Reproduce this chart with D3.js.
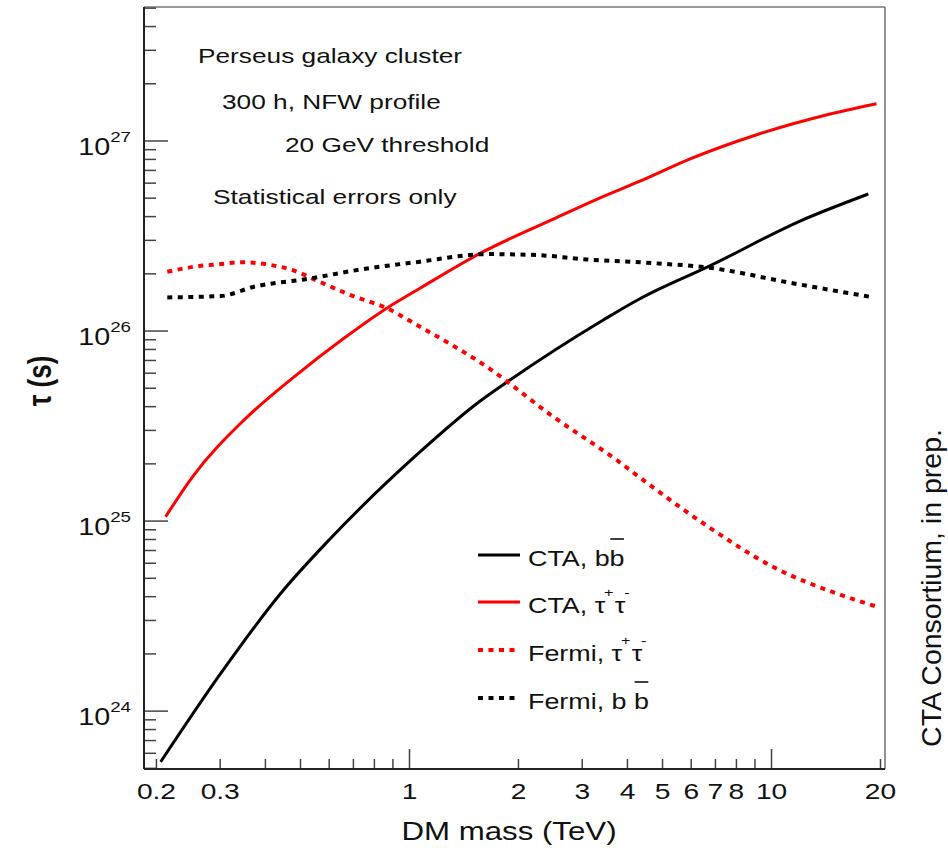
<!DOCTYPE html>
<html>
<head>
<meta charset="utf-8">
<script src="https://cdn.jsdelivr.net/npm/d3@7/dist/d3.min.js"></script>
<style>
  html, body { margin: 0; padding: 0; background: #fff; }
  svg { display: block; }
  text { font-family: "Liberation Sans", Arial, Helvetica, sans-serif; fill: #111; }
</style>
</head>
<body>
<svg id="chart" width="948" height="848"></svg>
<script>
// Dark-matter decay lifetime limits, tau (s), versus DM mass (TeV)
const ctaBBMass  = [0.2055, 0.301, 0.4406, 0.593, 1.069, 1.517, 1.895, 3.43, 4.33, 4.82, 6.62, 11.99, 18.51];
const ctaBBTau   = [5.41e23, 1.578e24, 4.16e24, 7.78e24, 2.31e25, 4.08e25, 5.52e25, 1.143e26, 1.479e26, 1.641e26, 2.163e26, 3.79e26, 5.26e26];

const ctaTauMass = [0.212, 0.251, 0.349, 0.480, 0.659, 0.878, 1.069, 1.566, 2.496, 3.29, 4.33, 5.96, 9.10, 13.9, 19.5];
const ctaTauTau  = [1.054e25, 1.70e25, 3.40e25, 5.74e25, 9.16e25, 1.343e26, 1.679e26, 2.56e26, 3.88e26, 4.93e26, 6.14e26, 8.05e26, 1.079e27, 1.358e27, 1.570e27];

const fermiTauMass = [0.2143, 0.254, 0.301, 0.3417, 0.405, 0.480, 0.556, 0.688, 0.868, 1.069, 1.634, 2.496, 3.74, 4.33, 6.62, 10.12, 15.46, 19.5];
const fermiTauTau  = [2.05e26, 2.18e26, 2.25e26, 2.30e26, 2.24e26, 2.08e26, 1.84e26, 1.545e26, 1.315e26, 1.054e26, 6.49e25, 3.54e25, 2.09e25, 1.694e25, 9.46e24, 5.73e24, 4.10e24, 3.55e24];

const fermiBBMass = [0.2143, 0.301, 0.372, 0.533, 0.7176, 1.069, 1.634, 2.246, 3.087, 4.33, 4.82, 6.62, 11.25, 19.1];
const fermiBBTau  = [1.503e26, 1.528e26, 1.710e26, 1.892e26, 2.094e26, 2.317e26, 2.54e26, 2.51e26, 2.38e26, 2.30e26, 2.27e26, 2.163e26, 1.795e26, 1.503e26];

const xTickLabels = [0.2, 0.3, 1, 2, 3, 4, 5, 6, 7, 8, 10, 20];
const yTickLabels = [1e24, 1e25, 1e26, 1e27];
const infoLines = ["Perseus galaxy cluster", "300 h, NFW profile", "20 GeV threshold", "Statistical errors only"];

// Horizontal stretch applied to text drawn inside the plot canvas
const SX = 1.25;

const series = [
  { mass: ctaBBMass,   tau: ctaBBTau,   color: "#000", dotted: false,
    label: [{ t: "CTA, b" }, { t: "b", bar: true }] },
  { mass: ctaTauMass,  tau: ctaTauTau,  color: "#ff0000", dotted: false,
    label: [{ t: "CTA, τ" }, { t: "+", sup: true }, { t: "τ" }, { t: "-", sup: true }] },
  { mass: fermiTauMass, tau: fermiTauTau, color: "#ff0000", dotted: true,
    label: [{ t: "Fermi, τ" }, { t: "+", sup: true }, { t: "τ" }, { t: "-", sup: true }] },
  { mass: fermiBBMass, tau: fermiBBTau, color: "#000", dotted: true,
    label: [{ t: "Fermi, b " }, { t: "b", bar: true }] }
];

const frame = { left: 144, right: 885, top: 7, bottom: 769 };
const svg = d3.select("#chart");

const x = d3.scaleLog().domain([0.1848, 20.58]).range([frame.left, frame.right]);
const y = d3.scaleLog().domain([4.96e23, 5.07e27]).range([frame.bottom, frame.top]);

// stretched text helper
function stext(parent, px, py, str, size, anchor) {
  const g = parent.append("g").attr("transform", `translate(${px},${py}) scale(${SX},1)`);
  const t = g.append("text").attr("text-anchor", anchor || "start").attr("font-size", size);
  if (str !== null) t.text(str);
  return { g, t };
}

// frame: gray top/right, dark axis lines
svg.append("line").attr("x1", frame.left).attr("x2", frame.right).attr("y1", frame.top).attr("y2", frame.top)
  .attr("stroke", "#777").attr("stroke-width", 1.6);
svg.append("line").attr("x1", frame.right).attr("x2", frame.right).attr("y1", frame.top).attr("y2", frame.bottom)
  .attr("stroke", "#777").attr("stroke-width", 1.6);

// ticks (pointing into the plot)
const yTicks = y.ticks();
const yMajorSet = new Set(yTickLabels.map(v => Math.round(Math.log10(v))));
const isYMajor = v => Math.abs(Math.log10(v) - Math.round(Math.log10(v))) < 1e-6 && yMajorSet.has(Math.round(Math.log10(v)));
svg.append("g").selectAll("line").data(yTicks).join("line")
  .attr("x1", frame.left).attr("x2", d => frame.left + (isYMajor(d) ? 24 : 12))
  .attr("y1", d => y(d)).attr("y2", d => y(d))
  .attr("stroke", "#444").attr("stroke-width", 1.5);

const xTicks = x.ticks();
const isXMajor = v => Math.abs(Math.log10(v) - Math.round(Math.log10(v))) < 1e-6;
svg.append("g").selectAll("line").data(xTicks).join("line")
  .attr("x1", d => x(d)).attr("x2", d => x(d))
  .attr("y1", frame.bottom).attr("y2", d => frame.bottom - (isXMajor(d) ? 20 : 10))
  .attr("stroke", "#444").attr("stroke-width", 1.5);

svg.append("line").attr("x1", frame.left).attr("x2", frame.left).attr("y1", frame.top).attr("y2", frame.bottom)
  .attr("stroke", "#222").attr("stroke-width", 2);
svg.append("line").attr("x1", frame.left).attr("x2", frame.right).attr("y1", frame.bottom).attr("y2", frame.bottom)
  .attr("stroke", "#222").attr("stroke-width", 2);

// tick labels
xTickLabels.forEach(v => {
  stext(svg, x(v), 799, String(v), 22.5, "middle");
});
yTickLabels.forEach(v => {
  const { t } = stext(svg, 131, y(v) + 14, null, 23, "end");
  t.append("tspan").text("10");
  t.append("tspan").attr("font-size", 15).attr("dy", -13).text(String(Math.round(Math.log10(v))));
});

// axis titles
stext(svg, 509, 840, "DM mass (TeV)", 25, "middle");
svg.append("g").attr("transform", `translate(51,381) scale(${SX},1) rotate(-90)`)
  .append("text").attr("text-anchor", "middle").attr("font-size", 26).attr("font-weight", "bold").text("τ (s)");

// info text
const infoPos = [[198, 63], [222, 109], [285, 152], [213, 204]];
infoLines.forEach((s, i) => stext(svg, infoPos[i][0], infoPos[i][1], s, 21, "start"));

// curves
const line = d3.line().x(d => x(d.m)).y(d => y(d.t)).curve(d3.curveMonotoneX);
const plot = svg.append("g");
series.forEach(s => {
  const pts = s.mass.map((m, i) => ({ m, t: s.tau[i] }));
  plot.append("path").datum(pts).attr("d", line)
    .attr("fill", "none").attr("stroke", s.color)
    .attr("stroke-width", s.dotted ? 4 : 3)
    .attr("stroke-dasharray", s.dotted ? "5,5.5" : null)
    .attr("stroke-linejoin", "round");
});

// legend
const legendRows = [555, 602, 650, 698];
series.forEach((s, i) => {
  const ry = legendRows[i];
  svg.append("line").attr("x1", 478).attr("x2", 520).attr("y1", ry).attr("y2", ry)
    .attr("stroke", s.color).attr("stroke-width", s.dotted ? 4 : 3)
    .attr("stroke-dasharray", s.dotted ? "5,5.5" : null);
  const { g, t } = stext(svg, 528, ry + 11, null, 21.5, "start");
  let idx = 0;
  let lifted = false;
  const bars = [];
  s.label.forEach(seg => {
    const ts = t.append("tspan").text(seg.t);
    if (seg.sup) { ts.attr("font-size", 13).attr("dy", -16).attr("dx", -1); lifted = true; }
    else if (lifted) { ts.attr("dy", 16).attr("dx", 1); lifted = false; }
    if (seg.bar) bars.push(idx);
    idx += seg.t.length;
  });
  bars.forEach(ci => {
    const ext = t.node().getExtentOfChar(ci);
    g.append("line").attr("x1", ext.x + 0.5).attr("x2", ext.x + ext.width - 0.5)
      .attr("y1", -27).attr("y2", -27).attr("stroke", "#111").attr("stroke-width", 1.6);
  });
});

// side note
svg.append("g").attr("transform", "translate(941,588) rotate(-90)")
  .append("text").attr("text-anchor", "middle").attr("font-size", 28.5).text("CTA Consortium, in prep.");
</script>
</body>
</html>
